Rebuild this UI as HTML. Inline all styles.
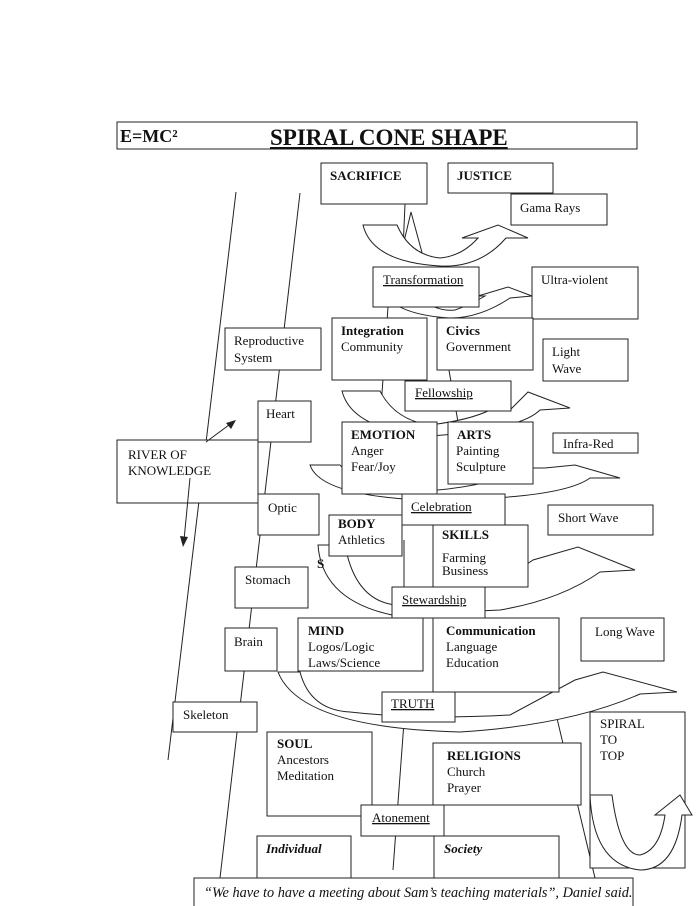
<!DOCTYPE html>
<html><head><style>
html,body{margin:0;padding:0;background:#fff}
svg{display:block}
text{font-family:"Liberation Serif",serif;font-size:13px;fill:#111}
.b{font-weight:bold}
.u{text-decoration:underline}
rect{fill:#fff;stroke:#222;stroke-width:1}
path.a{fill:#fff;stroke:#222;stroke-width:1}
line{stroke:#222;stroke-width:1}
</style></head><body>
<svg width="700" height="906" viewBox="0 0 700 906" xmlns="http://www.w3.org/2000/svg">
<rect x="117" y="122" width="520" height="27"/>
<text x="120" y="142" class="b" style="font-size:18px">E=MC²</text>
<text x="270" y="145" class="b u" style="font-size:23px">SPIRAL CONE SHAPE</text>

<line x1="236" y1="192" x2="168" y2="760"/>
<line x1="300" y1="193" x2="218" y2="895"/>
<line x1="555" y1="710" x2="595" y2="878"/>
<line x1="404" y1="722" x2="393" y2="870"/>
<line x1="404" y1="540" x2="404" y2="618"/>
<line x1="405" y1="204" x2="403" y2="250"/>
<path class="a" d="M402,250 L411,212 L424,260" style="fill:none"/>
<line x1="438" y1="307" x2="458" y2="422"/>
<line x1="388" y1="307" x2="380" y2="422"/>

<path class="a" d="M363,225 L397,225 Q410,255 440,258 Q462,256 478,238 L462,238 L498,225 L528,238 L506,238 Q480,268 440,266 Q372,262 363,225 Z"/>
<path class="a" d="M385,295 L420,300 Q440,312 455,310 Q470,305 485,296 L478,296 L508,287 L532,296 L510,298 Q480,318 450,318 Q400,315 385,295 Z"/>
<path class="a" d="M342,391 L380,391 Q395,420 430,425 Q470,420 490,410 L510,410 L528,392 L570,408 L540,410 Q520,430 430,436 Q352,430 342,391 Z"/>
<path class="a" d="M310,465 L340,465 Q360,490 405,492 Q480,490 530,468 L545,468 L575,465 L620,478 L590,478 Q560,500 420,500 Q320,495 310,465 Z"/>
<path class="a" d="M318,545 L345,545 Q355,600 395,605 Q470,605 530,562 L533,560 L578,547 L635,570 L600,572 Q560,600 500,610 L392,615 Q322,600 318,545 Z"/>
<path class="a" d="M278,672 L300,672 Q310,710 350,712 Q420,720 510,715 L575,680 L603,672 L677,692 L640,694 Q570,725 460,732 Q300,728 278,672 Z"/>

<rect x="117" y="440" width="141" height="63"/>
<text x="128" y="459">RIVER OF</text>
<text x="128" y="475">KNOWLEDGE</text>
<rect x="225" y="328" width="96" height="42"/>
<text x="234" y="345">Reproductive</text>
<text x="234" y="362">System</text>
<rect x="258" y="401" width="53" height="41"/>
<text x="266" y="418">Heart</text>
<rect x="258" y="494" width="61" height="41"/>
<text x="268" y="512">Optic</text>
<rect x="235" y="567" width="73" height="41"/>
<text x="245" y="584">Stomach</text>
<rect x="225" y="628" width="52" height="43"/>
<text x="234" y="646">Brain</text>
<rect x="173" y="702" width="84" height="30"/>
<text x="183" y="719">Skeleton</text>
<line x1="206" y1="442" x2="233" y2="422"/>
<path d="M236,420 L226,423 L231,429 Z" fill="#222"/>
<line x1="190" y1="478" x2="184" y2="540"/>
<path d="M183,547 L180,536 L188,537 Z" fill="#222"/>

<rect x="321" y="163" width="106" height="41"/>
<text x="330" y="180" class="b">SACRIFICE</text>
<rect x="448" y="163" width="105" height="30"/>
<text x="457" y="180" class="b">JUSTICE</text>
<rect x="511" y="194" width="96" height="31"/>
<text x="520" y="212">Gama Rays</text>
<rect x="373" y="267" width="106" height="40"/>
<text x="383" y="284" class="u">Transformation</text>
<rect x="532" y="267" width="106" height="52"/>
<text x="541" y="284">Ultra-violent</text>
<rect x="332" y="318" width="95" height="62"/>
<text x="341" y="335" class="b">Integration</text>
<text x="341" y="351">Community</text>
<rect x="437" y="318" width="96" height="52"/>
<text x="446" y="335" class="b">Civics</text>
<text x="446" y="351">Government</text>
<rect x="543" y="339" width="85" height="42"/>
<text x="552" y="356">Light</text>
<text x="552" y="373">Wave</text>
<rect x="405" y="381" width="106" height="30"/>
<text x="415" y="397" class="u">Fellowship</text>
<rect x="342" y="422" width="95" height="72"/>
<text x="351" y="439" class="b">EMOTION</text>
<text x="351" y="455">Anger</text>
<text x="351" y="471">Fear/Joy</text>
<rect x="448" y="422" width="85" height="62"/>
<text x="457" y="439" class="b">ARTS</text>
<text x="456" y="455">Painting</text>
<text x="456" y="471">Sculpture</text>
<rect x="553" y="433" width="85" height="20"/>
<text x="563" y="448">Infra-Red</text>
<rect x="402" y="494" width="103" height="31"/>
<text x="411" y="511" class="u">Celebration</text>
<rect x="548" y="505" width="105" height="30"/>
<text x="558" y="522">Short Wave</text>
<rect x="433" y="525" width="95" height="62"/>
<text x="442" y="539" class="b">SKILLS</text>
<text x="442" y="562">Farming</text>
<text x="442" y="575">Business</text>
<rect x="329" y="515" width="73" height="41"/>
<text x="338" y="528" class="b">BODY</text>
<text x="338" y="544">Athletics</text>
<text x="317" y="568" class="b">S</text>
<rect x="392" y="587" width="93" height="31"/>
<text x="402" y="604" class="u">Stewardship</text>
<rect x="298" y="618" width="125" height="53"/>
<text x="308" y="635" class="b">MIND</text>
<text x="308" y="651">Logos/Logic</text>
<text x="308" y="667">Laws/Science</text>
<rect x="433" y="618" width="126" height="74"/>
<text x="446" y="635" class="b">Communication</text>
<text x="446" y="651">Language</text>
<text x="446" y="667">Education</text>
<rect x="581" y="618" width="83" height="43"/>
<text x="595" y="636">Long Wave</text>
<rect x="382" y="692" width="73" height="30"/>
<text x="391" y="708" class="u">TRUTH</text>
<rect x="590" y="712" width="95" height="156"/>
<text x="600" y="728">SPIRAL</text>
<text x="600" y="744">TO</text>
<text x="600" y="760">TOP</text>
<path class="a" d="M590,795 L612,795 Q620,855 640,855 Q660,850 665,815 L655,815 L680,795 L692,815 L682,815 Q675,870 640,870 Q593,865 590,795 Z"/>
<rect x="267" y="732" width="105" height="84"/>
<text x="277" y="748" class="b">SOUL</text>
<text x="277" y="764">Ancestors</text>
<text x="277" y="780">Meditation</text>
<rect x="433" y="743" width="148" height="62"/>
<text x="447" y="760" class="b">RELIGIONS</text>
<text x="447" y="776">Church</text>
<text x="447" y="792">Prayer</text>
<rect x="361" y="805" width="83" height="31"/>
<text x="372" y="822" class="u">Atonement</text>
<rect x="257" y="836" width="94" height="42"/>
<text x="266" y="853" class="b" font-style="italic">Individual</text>
<rect x="434" y="836" width="125" height="42"/>
<text x="444" y="853" class="b" font-style="italic">Society</text>
<rect x="194" y="878" width="439" height="30"/>
<text x="204" y="897" font-style="italic" style="font-size:14.3px">“We have to have a meeting about Sam’s teaching materials”, Daniel said.</text>
</svg>
</body></html>
